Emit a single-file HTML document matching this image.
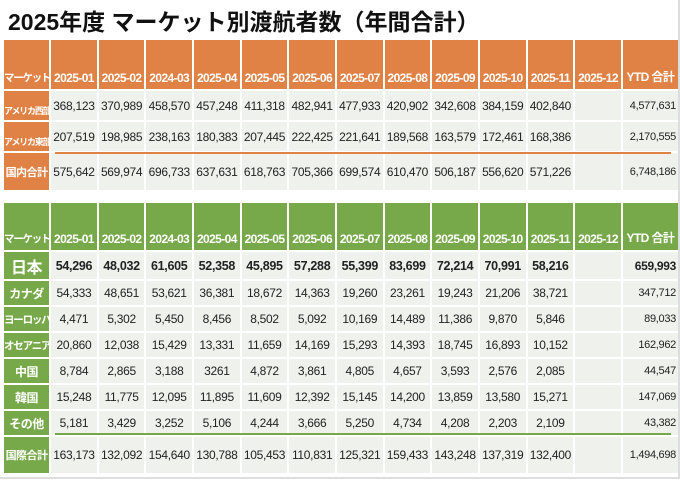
<!DOCTYPE html>
<html><head><meta charset="utf-8"><style>
body{margin:0;width:680px;height:480px;background:#fff;overflow:hidden;font-family:"Liberation Sans","Noto Sans CJK JP",sans-serif;position:relative}
.frame{position:absolute;left:0;top:0;width:678px;height:477px;border-right:2px solid #ddd;border-bottom:2px solid #ddd}
h1{position:absolute;left:8px;top:3px;margin:0;font-size:23px;font-weight:bold;color:#111;letter-spacing:0px}
table{position:absolute;left:2px;border-collapse:separate;border-spacing:2px;table-layout:fixed;width:678px}
td{padding:0;font-size:12px;letter-spacing:-0.3px;color:#222;background:#eef1ec;text-align:center;white-space:nowrap;overflow:hidden}
td.y{text-align:right;padding-right:2px;font-size:11px}
tr.h td{color:#fff;font-weight:bold;font-size:12px;letter-spacing:-0.6px;vertical-align:bottom;padding-bottom:4px}
.o tr.h td,.o td.l{background:#e08245}
.g tr.h td,.g td.l{background:#77a94a}
td.l{color:#fff;font-weight:bold;font-size:9px;letter-spacing:-1.2px}
.g td.l{font-size:12px;letter-spacing:-0.5px}
tr.b td{font-weight:bold;font-size:12.5px}
.line{position:absolute;height:2px}
</style></head><body>
<div class="frame"></div>
<h1>2025年度 マーケット別渡航者数（年間合計）</h1>
<table class="o" style="top:38px">
<colgroup><col style="width:45px"><col span="12" style="width:45.5px"><col style="width:55px"></colgroup>
<tr class="h" style="height:49px"><td style="font-size:10.5px;letter-spacing:-1.3px">マーケット</td><td>2025-01</td><td>2025-02</td><td>2024-03</td><td>2025-04</td><td>2025-05</td><td>2025-06</td><td>2025-07</td><td>2025-08</td><td>2025-09</td><td>2025-10</td><td>2025-11</td><td>2025-12</td><td>YTD 合計</td></tr>
<tr style="height:29px"><td class="l" style="vertical-align:bottom;padding-bottom:3px">アメリカ西部</td><td>368,123</td><td>370,989</td><td>458,570</td><td>457,248</td><td>411,318</td><td>482,941</td><td>477,933</td><td>420,902</td><td>342,608</td><td>384,159</td><td>402,840</td><td></td><td class="y">4,577,631</td></tr>
<tr style="height:29px"><td class="l" style="vertical-align:bottom;padding-bottom:3px">アメリカ東部</td><td>207,519</td><td>198,985</td><td>238,163</td><td>180,383</td><td>207,445</td><td>222,425</td><td>221,641</td><td>189,568</td><td>163,579</td><td>172,461</td><td>168,386</td><td></td><td class="y">2,170,555</td></tr>
<tr style="height:37px"><td class="l" style="font-size:11px;letter-spacing:-0.5px">国内合計</td><td>575,642</td><td>569,974</td><td>696,733</td><td>637,631</td><td>618,763</td><td>705,366</td><td>699,574</td><td>610,470</td><td>506,187</td><td>556,620</td><td>571,226</td><td></td><td class="y">6,748,186</td></tr>
</table>
<div class="line" style="left:55px;top:152px;width:616px;background:#e08245"></div>
<table class="g" style="top:201px">
<colgroup><col style="width:45px"><col span="12" style="width:45.5px"><col style="width:55px"></colgroup>
<tr class="h" style="height:47px"><td style="font-size:10.5px;letter-spacing:-1.3px">マーケット</td><td>2025-01</td><td>2025-02</td><td>2024-03</td><td>2025-04</td><td>2025-05</td><td>2025-06</td><td>2025-07</td><td>2025-08</td><td>2025-09</td><td>2025-10</td><td>2025-11</td><td>2025-12</td><td>YTD 合計</td></tr>
<tr class="b" style="height:27px"><td class="l" style="font-size:16px">日本</td><td>54,296</td><td>48,032</td><td>61,605</td><td>52,358</td><td>45,895</td><td>57,288</td><td>55,399</td><td>83,699</td><td>72,214</td><td>70,991</td><td>58,216</td><td></td><td class="y" style="font-size:12px">659,993</td></tr>
<tr style="height:24px"><td class="l">カナダ</td><td>54,333</td><td>48,651</td><td>53,621</td><td>36,381</td><td>18,672</td><td>14,363</td><td>19,260</td><td>23,261</td><td>19,243</td><td>21,206</td><td>38,721</td><td></td><td class="y">347,712</td></tr>
<tr style="height:24px"><td class="l" style="font-size:10.5px;letter-spacing:-1.2px">ヨーロッパ</td><td>4,471</td><td>5,302</td><td>5,450</td><td>8,456</td><td>8,502</td><td>5,092</td><td>10,169</td><td>14,489</td><td>11,386</td><td>9,870</td><td>5,846</td><td></td><td class="y">89,033</td></tr>
<tr style="height:24px"><td class="l" style="font-size:10.5px;letter-spacing:-1.2px">オセアニア</td><td>20,860</td><td>12,038</td><td>15,429</td><td>13,331</td><td>11,659</td><td>14,169</td><td>15,293</td><td>14,393</td><td>18,745</td><td>16,893</td><td>10,152</td><td></td><td class="y">162,962</td></tr>
<tr style="height:24px"><td class="l">中国</td><td>8,784</td><td>2,865</td><td>3,188</td><td>3261</td><td>4,872</td><td>3,861</td><td>4,805</td><td>4,657</td><td>3,593</td><td>2,576</td><td>2,085</td><td></td><td class="y">44,547</td></tr>
<tr style="height:24px"><td class="l">韓国</td><td>15,248</td><td>11,775</td><td>12,095</td><td>11,895</td><td>11,609</td><td>12,392</td><td>15,145</td><td>14,200</td><td>13,859</td><td>13,580</td><td>15,271</td><td></td><td class="y">147,069</td></tr>
<tr style="height:24px"><td class="l">その他</td><td>5,181</td><td>3,429</td><td>3,252</td><td>5,106</td><td>4,244</td><td>3,666</td><td>5,250</td><td>4,734</td><td>4,208</td><td>2,203</td><td>2,109</td><td></td><td class="y">43,382</td></tr>
<tr style="height:36px"><td class="l" style="font-size:11px;letter-spacing:-0.5px">国際合計</td><td>163,173</td><td>132,092</td><td>154,640</td><td>130,788</td><td>105,453</td><td>110,831</td><td>125,321</td><td>159,433</td><td>143,248</td><td>137,319</td><td>132,400</td><td></td><td class="y">1,494,698</td></tr>
</table>
<div class="line" style="left:55px;top:433px;width:616px;background:#77a94a"></div>
</body></html>
